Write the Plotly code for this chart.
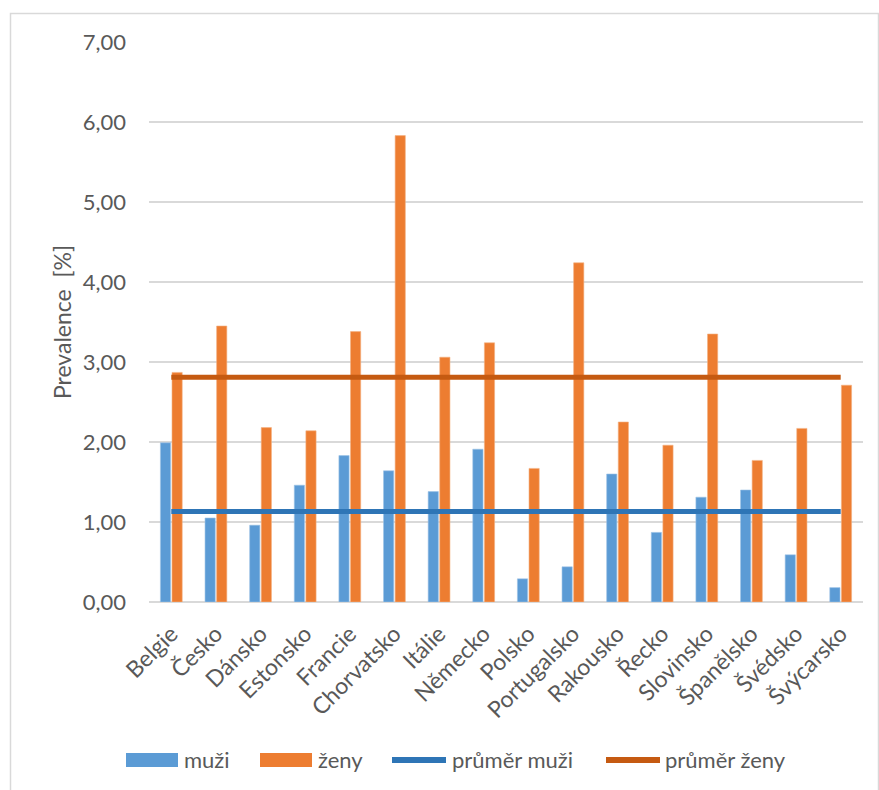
import plotly.graph_objects as go

# Prevalence by country, men vs. women, with average lines
countries = ["Belgie", "Česko", "Dánsko", "Estonsko", "Francie", "Chorvatsko",
             "Itálie", "Německo", "Polsko", "Portugalsko", "Rakousko", "Řecko",
             "Slovinsko", "Španělsko", "Švédsko", "Švýcarsko"]
muzi = [1.99, 1.05, 0.96, 1.46, 1.83, 1.64, 1.38, 1.91,
        0.29, 0.44, 1.60, 0.87, 1.31, 1.40, 0.59, 0.18]
zeny = [2.87, 3.45, 2.18, 2.14, 3.38, 5.83, 3.06, 3.24,
        1.67, 4.24, 2.25, 1.96, 3.35, 1.77, 2.17, 2.71]
prumer_muzi = 1.13
prumer_zeny = 2.81

series_names = ["muži", "ženy", "průměr muži", "průměr ženy"]
series_colors = ["#5B9BD5", "#ED7D31", "#2E75B6", "#C55A11"]

FONT = "Lato"
TXT = "#595959"
GRID = "#D9D9D9"
W, H = 879, 790
L, R, T, B = 149, 16, 42, 188


def px_x(px):
    return (px - L) / (W - L - R)


def px_y(py):
    return (H - B - py) / (H - T - B)


fig = go.Figure()
fig.add_trace(go.Bar(x=countries, y=muzi, name=series_names[0],
                     marker=dict(color=series_colors[0], line=dict(color="#9DC3E6", width=0.6))))
fig.add_trace(go.Bar(x=countries, y=zeny, name=series_names[1],
                     marker=dict(color=series_colors[1], line=dict(color="#F4B183", width=0.6))))
fig.add_trace(go.Scatter(x=countries, y=[prumer_muzi] * len(countries), name=series_names[2],
                         mode="lines", line=dict(color=series_colors[2], width=5)))
fig.add_trace(go.Scatter(x=countries, y=[prumer_zeny] * len(countries), name=series_names[3],
                         mode="lines", line=dict(color=series_colors[3], width=5)))

# Legend drawn below the plot: wide swatches for bars, thick strokes for lines
shapes = [dict(type="rect", xref="paper", yref="paper",
               x0=px_x(10.5), x1=px_x(878.5), y0=px_y(800), y1=px_y(13.5),
               line=dict(color=GRID, width=1.5), fillcolor="rgba(0,0,0,0)", layer="below")]
annotations = []
legend_items = [  # (swatch start, swatch end, text start, kind)
    (126, 178, 182, "bar"),
    (260, 312, 316, "bar"),
    (392, 446, 450, "line"),
    (606, 660, 663, "line"),
]
ly = 760
for (s0, s1, tx, kind), name, color in zip(legend_items, series_names, series_colors):
    if kind == "bar":
        shapes.append(dict(type="rect", xref="paper", yref="paper",
                           x0=px_x(s0), x1=px_x(s1), y0=px_y(ly + 7), y1=px_y(ly - 7),
                           fillcolor=color, line=dict(width=0)))
    else:
        shapes.append(dict(type="line", xref="paper", yref="paper",
                           x0=px_x(s0), x1=px_x(s1), y0=px_y(ly), y1=px_y(ly),
                           line=dict(color=color, width=6)))
    annotations.append(dict(text=name, xref="paper", yref="paper", x=px_x(tx), y=px_y(ly),
                            xanchor="left", yanchor="middle", showarrow=False,
                            font=dict(family=FONT, size=22, color=TXT)))

fig.update_layout(
    width=W, height=H,
    margin=dict(l=L, r=R, t=T, b=B),
    paper_bgcolor="white", plot_bgcolor="white",
    separators=", ",
    font=dict(family=FONT, size=22, color=TXT),
    barmode="group", bargap=0.48, bargroupgap=0.12,
    showlegend=False,
    shapes=shapes,
    annotations=annotations,
)
fig.update_yaxes(range=[0, 7], dtick=1, tickformat=".2f", showgrid=True, gridcolor=GRID,
                 gridwidth=1.5, zeroline=True, zerolinecolor=GRID, zerolinewidth=1.5,
                 ticks="", ticklabelstandoff=22, tickfont=dict(size=22, color=TXT),
                 title=dict(text="Prevalence\u00a0\u00a0[%]", font=dict(size=23, color=TXT), standoff=4))
fig.update_xaxes(tickangle=-45, showgrid=False, showline=False, ticks="", ticklabelstandoff=13,
                 tickfont=dict(size=23, color=TXT))

fig.write_html("out.html")
